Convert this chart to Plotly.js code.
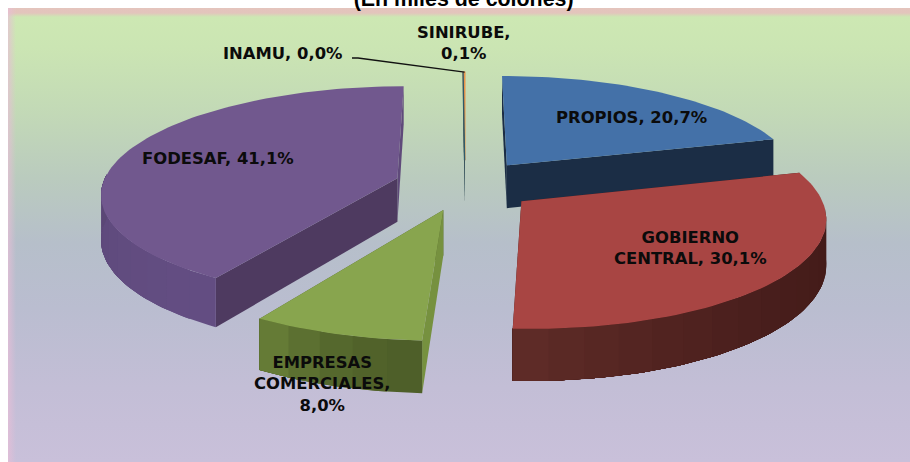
<!DOCTYPE html>
<html><head><meta charset="utf-8">
<script src="https://cdn.plot.ly/plotly-3.0.1.min.js"></script>
<style>
html,body{margin:0;padding:0;background:#fff;width:910px;height:462px;overflow:hidden}
#bg{position:absolute;left:8px;top:8px;width:902px;height:454px;
background:linear-gradient(to bottom,#e4c4bd 0,#e3c5bc 5px,#cde8b3 9px,#cbe5b3 40px,#c3dab6 100px,#bacbbe 170px,#b6bfca 235px,#babdd0 300px,#c3bed6 380px,#c9c0da 454px)}
#edge{position:absolute;left:8px;top:8px;width:8px;height:454px;background:linear-gradient(to right,rgba(232,190,215,.7),rgba(232,190,215,0))}
#chart{position:absolute;left:0;top:0;width:910px;height:462px}
</style></head><body>
<div id="bg"></div><div id="edge"></div><div id="chart"></div>
<script>
// Data
const categories = ['PROPIOS','GOBIERNO CENTRAL','EMPRESAS COMERCIALES','FODESAF','INAMU','SINIRUBE'];
const shares = [20.7,30.1,8.0,41.1,0.0,0.1];
const labelTexts = ['PROPIOS, 20,7%','GOBIERNO<br>CENTRAL, 30,1%','EMPRESAS<br>COMERCIALES,<br>8,0%','FODESAF, 41,1%','INAMU, 0,0%','SINIRUBE,<br>0,1%'];
const titleText = '(En miles de colones)';

// Styles
const topColors = ['#4471a8','#a84543','#88a54e','#71588e','#2f5a6a','#e8944a'];
const arcColorsLo = ['#1b2d45','#431b19','#4e5f29','#634d82','#1b2d45','#2f4a55'];
const arcColorsHi = ['#1b2d45','#602c28','#6b8139','#5a4675','#1b2d45','#2f4a55'];
const startWallColors = ['#1b2d45','#431b19','#76913f','#4e3a60','#2f4a55','#2f4a55'];
const endWallColors = ['#1b2d45','#431b19','#4e5f29','#5f4a7a','#2f4a55','#2f4a55'];
const drawOrder = [5,4,0,3,2,1];

// 3D pie geometry (pixel-scaled axes)
const cx=465, cy=185, a=295, b=106, k=0.133, explode=0.24, depth=44;
const labelPos = [[631,117],[690,248],[322,384],[218,158],[283,53],[464,43]];

const rad = d=>d*Math.PI/180;
function project(X,Y,z){const s=1/(1-k*Y);return [cx+a*X*s, cy+b*Y*s+z*depth*s];}
function mixColor(c1,c2,t){
  const p=c=>[1,3,5].map(i=>parseInt(c.substr(i,2),16));
  const A=p(c1),B=p(c2);
  return 'rgb('+A.map((v,i)=>Math.round(v+(B[i]-v)*t)).join(',')+')';
}
const traces=[];
function poly(pts,color,name){
  traces.push({type:'scatter',mode:'lines',name,x:pts.map(p=>p[0]),y:pts.map(p=>p[1]),
    fill:'toself',fillcolor:color,line:{width:0},hoverinfo:'skip',showlegend:false});
}
const total=shares.reduce((s,v)=>s+v,0);
let acc=0;
const slices=shares.map(v=>{const t0=acc/total*360;acc+=v;const t1=acc/total*360;return {t0,t1,mid:(t0+t1)/2};});
drawOrder.forEach(i=>{
  const {t0,t1,mid}=slices[i];
  const ox=explode*Math.sin(rad(mid)), oy=-explode*Math.cos(rad(mid));
  const P=(t,z)=>project(ox+Math.sin(rad(t)),oy-Math.cos(rad(t)),z);
  const apex=z=>project(ox,oy,z);
  // radial walls
  poly([apex(0),P(t1,0),P(t1,1),apex(1),apex(0)],endWallColors[i],categories[i]);
  poly([apex(0),P(t0,0),P(t0,1),apex(1),apex(0)],startWallColors[i],categories[i]);
  // outer wall, in overlapping shaded bands so that no seams show
  const lo=Math.max(t0,94), hi=Math.min(t1,272);
  if(hi>lo){
    const n=Math.max(2,Math.round((hi-lo)/6));
    for(let j=0;j<n;j++){
      const u0=lo+(hi-lo)*j/n,u1=hi,pts=[],steps=Math.ceil((u1-u0)/1.5);
      for(let q=0;q<=steps;q++)pts.push(P(u0+(u1-u0)*q/steps,0));
      for(let q=steps;q>=0;q--)pts.push(P(u0+(u1-u0)*q/steps,1));
      pts.push(pts[0]);
      const t=(j+0.5)/n;
      poly(pts,mixColor(arcColorsLo[i],arcColorsHi[i],t*t),categories[i]);
    }
  }
  // top face
  const top=[apex(0)],m=Math.max(2,Math.ceil((t1-t0)/1.5));
  for(let q=0;q<=m;q++)top.push(P(t0+(t1-t0)*q/m,0));
  top.push(apex(0));
  traces.push({type:'scatter',mode:'lines',name:categories[i],x:top.map(p=>p[0]),y:top.map(p=>p[1]),
    fill:'toself',fillcolor:topColors[i],line:{color:topColors[i],width:(t1-t0)<2?1.4:0},hoverinfo:'skip',showlegend:false});
});
// leader line of INAMU
const tip=project(explode*Math.sin(rad(slices[4].mid)),-explode*Math.cos(rad(slices[4].mid))-1,0);
traces.push({type:'scatter',mode:'lines',name:'guía INAMU',x:[352,358,tip[0]],y:[58,58,tip[1]],
  line:{color:'#111',width:1.3},hoverinfo:'skip',showlegend:false});

const labelFont={family:'"DejaVu Sans",sans-serif',size:16.4,color:'#0b0b0b',weight:700};
const annotations=labelTexts.map((t,i)=>({text:t,x:labelPos[i][0],y:labelPos[i][1],xref:'x',yref:'y',
  showarrow:false,font:labelFont,align:'center',xanchor:'center',yanchor:'middle'}));

Plotly.newPlot('chart',traces,{
  width:910,height:462,margin:{l:0,r:0,t:0,b:0},
  paper_bgcolor:'rgba(0,0,0,0)',plot_bgcolor:'rgba(0,0,0,0)',showlegend:false,
  title:{text:titleText,x:0.5095,xanchor:'center',yref:'container',y:0.988,yanchor:'bottom',
    font:{family:'"Liberation Sans",Arial,sans-serif',size:21.4,color:'#000',weight:700}},
  xaxis:{range:[0,910],visible:false,fixedrange:true},
  yaxis:{range:[462,0],visible:false,fixedrange:true},
  annotations
},{displayModeBar:false,staticPlot:true});
</script></body></html>
